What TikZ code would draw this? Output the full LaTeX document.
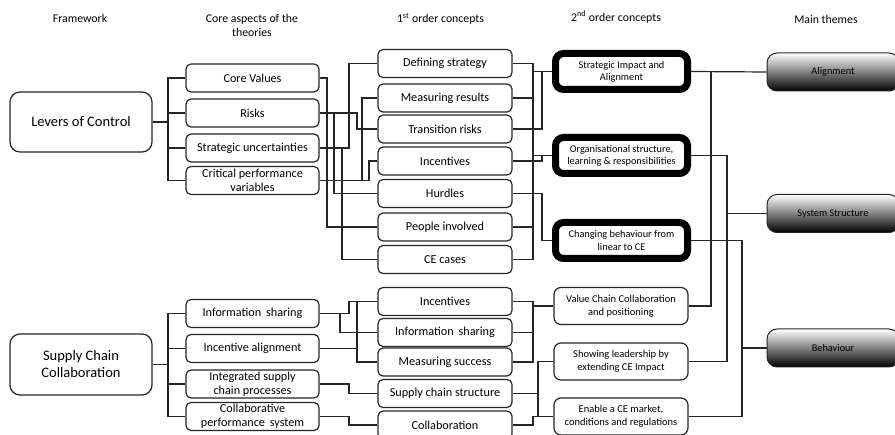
\documentclass[tikz,border=0pt]{standalone}
\usepackage{fontspec}
\setmainfont{Carlito}
\begin{document}
\begin{tikzpicture}[x=1pt,y=-1pt,
  box/.style={draw=black!85, line width=1.2pt, rounded corners=5pt, align=center, inner sep=1pt, font=\fontsize{12.2}{14}\selectfont},
  core/.style={box, minimum width=133pt, minimum height=28pt},
  first/.style={box, minimum width=134pt, minimum height=28pt},
  frame/.style={box, rounded corners=10pt, minimum width=142pt, minimum height=60pt, font=\fontsize{14.5}{17}\selectfont},
  second/.style={draw=black, line width=7pt, rounded corners=8pt, minimum width=132pt, minimum height=36pt, align=center, inner sep=1pt, font=\fontsize{10.3}{12.3}\selectfont},
  secondb/.style={box, rounded corners=7pt, minimum width=134pt, minimum height=37pt, font=\fontsize{10.5}{12.7}\selectfont},
  theme/.style={draw=black!85, line width=1pt, rounded corners=10pt, top color=white, middle color=white!94!black, bottom color=black, minimum width=132pt, minimum height=38pt, font=\fontsize{10.3}{12}\selectfont},
  head/.style={align=center, font=\fontsize{11.8}{14}\selectfont},
  link/.style={draw=black!85, line width=1.2pt}
]
\clip (0,0) rectangle (895,435);
\fill[white] (0,0) rectangle (895,435);

% headers
\node[head] (h1) at (80,18) {Framework};
\node[head] (h2) at (252,25) {Core aspects of the\\theories};
\node[head] (h3) at (440.5,19) {1\textsuperscript{st} order concepts};
\node[head] (h4) at (616,17) {2\textsuperscript{nd} order concepts};
\node[head] (h5) at (826,19) {Main themes};

% framework
\node[frame] (lc) at (81,122) {Levers of Control};
\node[frame, minimum height=61pt] (sc) at (81,364.5) {Supply Chain\\Collaboration};

% core aspects
\node[core] (cv) at (252.5,78) {Core Values};
\node[core] (ri) at (252.5,113) {Risks};
\node[core] (su) at (252.5,148) {Strategic uncertainties};
\node[core] (cp) at (252.5,180.5) {Critical performance\\variables};
\node[core] (is) at (252.5,313.5) {Information\, sharing};
\node[core] (ia) at (252.5,348.5) {Incentive alignment};
\node[core] (isc) at (252.5,384) {Integrated supply\\chain processes};
\node[core] (cps) at (252.5,416.5) {Collaborative\\performance\, system};

% 1st order
\node[first] (ds) at (445,63.5) {Defining strategy};
\node[first] (mr) at (445,98) {Measuring results};
\node[first] (tr) at (445,129) {Transition risks};
\node[first] (inc) at (445,161) {Incentives};
\node[first] (hu) at (445,193.5) {Hurdles};
\node[first] (pi) at (445,227) {People involved};
\node[first] (ce) at (445,259.5) {CE cases};
\node[first] (inc2) at (445,301.5) {Incentives};
\node[first] (is2) at (445,332.5) {Information\, sharing};
\node[first] (ms) at (445,362) {Measuring success};
\node[first] (scs) at (445,393.5) {Supply chain structure};
\node[first] (col) at (445,425) {Collaboration};

% 2nd order
\node[second] (sia) at (621.5,71.5) {Strategic Impact and\\Alignment};
\node[second] (osl) at (621.5,155.5) {Organisational structure,\\learning \& responsibilities};
\node[second] (cb) at (621.5,240.5) {Changing behaviour from\\linear to CE};
\node[secondb] (vcc) at (621,306) {Value Chain Collaboration\\and positioning};
\node[secondb] (sl) at (621,361.5) {Showing leadership by\\extending CE Impact};
\node[secondb] (ecm) at (621,416.5) {Enable a CE market,\\conditions and regulations};

% themes
\node[theme] (al) at (833,72) {Alignment};
\node[theme] (ss) at (833,213.5) {System Structure};
\node[theme] (be) at (833,348) {Behaviour};

% bus x positions
\coordinate (x168) at (168,0);
\coordinate (x327) at (327,0);
\coordinate (x334) at (334,0);
\coordinate (x340) at (340,0);
\coordinate (x342) at (342,0);
\coordinate (x349) at (349,0);
\coordinate (x357) at (357,0);
\coordinate (x362) at (362,0);
\coordinate (x369) at (369,0);
\coordinate (x533) at (533,0);
\coordinate (x538) at (538,0);
\coordinate (x542) at (542,0);
\coordinate (x711) at (711,0);
\coordinate (x727) at (727,0);
\coordinate (x742) at (742,0);

% framework -> core aspects
\draw[link] (lc.east) -- (lc.east -| x168);
\draw[link] (cv.west) -- (cv.west -| x168) -- (cp.west -| x168) -- (cp.west);
\draw[link] (ri.west) -- (ri.west -| x168);
\draw[link] (su.west) -- (su.west -| x168);
\draw[link] (sc.east) -- (sc.east -| x168);
\draw[link] (is.west) -- (is.west -| x168) -- (cps.west -| x168) -- (cps.west);
\draw[link] (ia.west) -- (ia.west -| x168);
\draw[link] (isc.west) -- (isc.west -| x168);

% core aspects -> 1st order (top)
\draw[link] (cv.east) -- (cv.east -| x327) |- (pi.west);
\draw[link] (ri.east) -- (ri.east -| x357) |- (tr.west);
\draw[link] (ri.east -| x334) |- (hu.west);
\draw[link] (su.east) -- (su.east -| x349) |- (ds.west);
\draw[link] (su.east -| x342) |- (ce.west);
\draw[link] (cp.east) -- (cp.east -| x369) |- (inc.west);
\draw[link] (cp.east -| x362) |- (mr.west);

% core aspects -> 1st order (bottom)
\draw[link] (is.east) -- (is.east -| x349) |- (inc2.west);
\draw[link] (is.east -| x340) |- (is2.west);
\draw[link] (ia.east) -- (ia.east -| x357);
\draw[link] (inc2.west -| x357) |- (ms.west);
\draw[link] (isc.east) -- (isc.east -| x349) |- (scs.west);
\draw[link] (cps.east) -- (cps.east -| x349) |- (col.west);

% 1st order -> 2nd order (top)
\draw[link] (ds.east) -- (ds.east -| x533) -- (ce.east -| x533) -- (ce.east);
\draw[link] (mr.east) -- (mr.east -| x533);
\draw[link] (pi.east) -- (pi.east -| x533);
\draw[link] (sia.west -| x533) -- (sia.west);
\draw[link] (tr.east) -- (tr.east -| x542) |- (sia.west);
\draw[link] (osl.west -| x533) -- (osl.west);
\draw[link] (inc.east) -- (inc.east -| x542) |- (osl.west);
\draw[link] (hu.east) -- (hu.east -| x542) |- (cb.west);

% 1st order -> 2nd order (bottom)
\draw[link] (inc2.east) -- (inc2.east -| x533) -- (ms.east -| x533) -- (ms.east);
\draw[link] (is2.east) -- (is2.east -| x533);
\draw[link] (vcc.west -| x533) -- (vcc.west);
\draw[link] (sl.west) -- (sl.west -| x538) -- (ecm.west -| x538) -- (ecm.west);
\draw[link] (scs.east) -- (scs.east -| x538);
\draw[link] (col.east) -- (col.east -| x533) |- (ecm.west);

% 2nd order -> themes
\draw[link] (sia.east) -- (al.west);
\draw[link] (sia.east -| x711) |- (vcc.east);
\draw[link] (osl.east) -- (osl.east -| x727) |- (sl.east);
\draw[link] (ss.west -| x727) -- (ss.west);
\draw[link] (cb.east) -- (cb.east -| x742) |- (ecm.east);
\draw[link] (be.west -| x742) -- (be.west);
\end{tikzpicture}
\end{document}
